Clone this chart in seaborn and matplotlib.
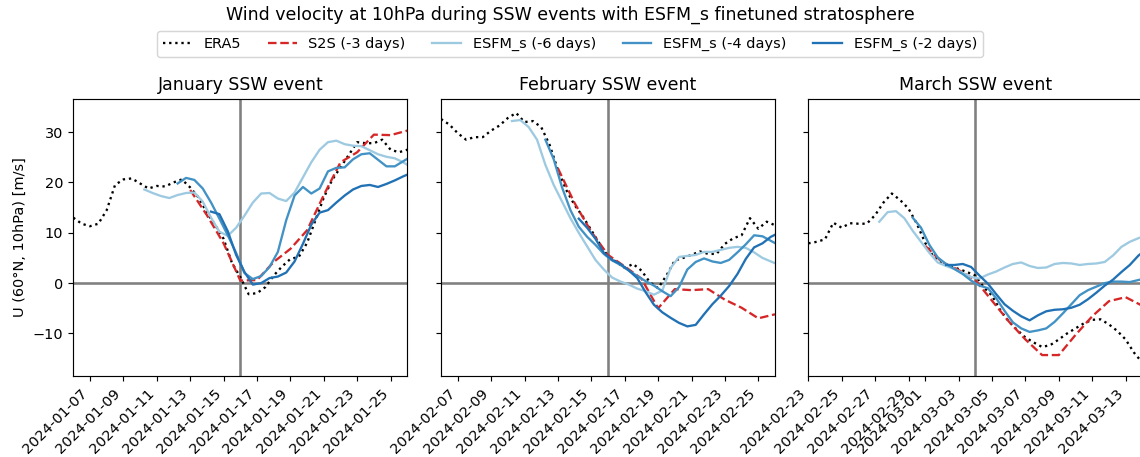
import pandas as pd
import matplotlib
matplotlib.use("Agg")
import matplotlib.pyplot as plt
import matplotlib.dates as mdates
import seaborn as sns

# Event windows: 10 days either side of the SSW onset
titles = ["January SSW event", "February SSW event", "March SSW event"]
window_start = ["2024-01-06", "2024-02-06", "2024-02-23"]
ssw_dates = ["2024-01-16", "2024-02-16", "2024-03-04"]

labels = ["ERA5", "S2S (-3 days)", "ESFM_s (-6 days)", "ESFM_s (-4 days)", "ESFM_s (-2 days)"]

# ERA5 zonal-mean U at 60N, 10 hPa, 12-hourly from window start
era5_jan = [13.0, 11.8, 11.3, 11.8, 14.5, 19.5, 20.6, 20.8, 19.8, 18.8,
            19.3, 19.2, 20.0, 20.6, 19.0, 17.0, 14.0, 11.5, 8.8, 4.0,
            1.2, -2.2, -2.0, -0.8, 1.5, 3.3, 4.8, 5.2, 8.0, 12.5,
            17.0, 20.5, 23.0, 25.5, 28.0, 27.8, 27.8, 28.5, 26.5, 26.0, 26.5]
era5_feb = [32.6, 31.5, 29.8, 28.5, 29.0, 29.0, 30.3, 31.3, 32.8, 33.8,
            32.0, 32.2, 31.0, 27.5, 22.5, 18.5, 15.5, 13.2, 10.5, 7.8,
            5.3, 4.2, 3.0, 3.8, 2.5, 0.2, -1.0, 1.5, 4.5, 5.0,
            5.6, 6.3, 5.8, 5.8, 7.8, 8.9, 9.5, 12.9, 10.8, 12.2, 11.5]
era5_mar = [7.9, 8.2, 8.7, 12.0, 11.0, 11.9, 11.8, 11.8, 13.5, 16.0,
            17.8, 16.5, 14.8, 11.8, 8.0, 5.2, 3.8, 3.4, 2.8, 2.2,
            1.5, -0.8, -2.5, -5.4, -7.6, -9.3, -10.8, -11.8, -12.7, -12.3,
            -11.2, -10.0, -9.0, -8.0, -7.3, -7.2, -8.2, -9.5, -11.2, -13.8, -15.8]

# S2S forecast initialised 3 days before onset, daily from day 7
s2s_jan = [18.5, 13.5, 7.9, 0.5, 0.6, 4.2, 6.8, 10.5, 17.5, 24.0, 26.0, 29.5, 29.4, 30.3]
s2s_feb = [22.8, 15.9, 10.2, 5.6, 3.3, 0.9, -5.0, -1.2, -1.4, -1.2, -3.3, -4.9, -7.0, -6.2]
s2s_mar = [7.4, 4.2, 2.6, 0.6, -3.5, -7.6, -11.2, -14.3, -14.3, -10.3, -6.6, -3.6, -2.8, -4.5]

# ESFM_s forecasts, 12-hourly starting 6 h after initialisation
esfm6_jan = [18.6, 17.9, 17.3, 16.9, 17.5, 17.9, 18.0, 16.2, 13.0, 10.2,
             9.4, 11.0, 13.4, 16.0, 17.8, 17.9, 16.8, 16.3, 18.0, 21.0,
             24.0, 26.5, 28.0, 28.3, 27.6, 27.3, 27.2, 26.4, 25.6, 25.1,
             24.8, 24.0, 23.0]
esfm4_jan = [19.8, 20.9, 20.5, 18.8, 16.0, 12.8, 9.5, 6.0, 2.0, 0.8,
             1.4, 3.2, 6.2, 12.5, 17.4, 19.1, 17.8, 18.8, 22.2, 22.9,
             23.0, 24.6, 25.6, 25.8, 24.5, 23.2, 23.2, 24.2, 25.2]
esfm2_jan = [14.2, 13.7, 10.3, 5.6, 2.2, -0.3, 0.0, 1.0, 1.3, 2.1,
             4.3, 7.8, 11.6, 14.0, 14.5, 16.0, 17.4, 18.6, 19.3, 19.5,
             19.1, 19.7, 20.4, 21.2, 21.9]

esfm6_feb = [32.2, 32.4, 31.0, 28.5, 23.5, 19.5, 16.2, 12.9, 10.0, 7.3,
             4.6, 2.7, 1.1, 0.3, -0.3, -1.1, -1.6, -2.3, -1.5, 3.0,
             5.2, 5.4, 5.6, 6.2, 6.2, 6.6, 7.0, 7.2, 7.0, 6.1,
             5.0, 4.3, 3.6]
esfm4_feb = [28.5, 24.6, 19.0, 14.5, 11.2, 9.2, 7.6, 5.8, 4.5, 3.6,
             2.5, 1.4, 0.4, -0.5, -1.6, -2.6, -0.8, 2.7, 4.2, 4.9,
             4.3, 4.0, 4.6, 6.1, 7.7, 9.5, 9.3, 8.4, 7.5]
esfm2_feb = [12.8, 11.0, 8.8, 6.0, 4.6, 3.8, 2.5, 1.0, -1.8, -4.3,
             -5.8, -6.9, -7.9, -8.6, -8.3, -6.2, -4.2, -2.5, -0.6, 1.8,
             4.8, 7.1, 7.9, 9.2, 10.0]

esfm6_mar = [12.2, 14.1, 14.3, 12.9, 10.4, 8.2, 6.0, 4.1, 3.4, 2.8,
             2.0, 1.2, 0.9, 1.7, 2.3, 3.1, 3.8, 4.1, 3.4, 3.0,
             3.1, 3.8, 4.0, 3.9, 3.6, 3.8, 3.9, 4.2, 5.5, 7.2,
             8.2, 8.9, 9.5]
esfm4_mar = [13.0, 11.0, 7.6, 5.1, 3.8, 2.8, 1.8, 0.5, -0.5, -1.0,
             -3.0, -5.5, -7.8, -9.0, -9.7, -9.4, -9.0, -7.7, -6.0, -4.2,
             -2.4, -1.4, -0.7, 0.0, 0.3, 0.3, 0.2, 0.6, 1.0]
esfm2_mar = [3.6, 3.6, 3.8, 3.2, 1.5, -0.1, -2.2, -4.2, -5.5, -6.6,
             -7.4, -6.4, -5.6, -5.3, -5.2, -4.9, -4.3, -3.2, -1.9, -0.5,
             0.7, 2.2, 3.6, 5.4, 6.8]

era5 = [era5_jan, era5_feb, era5_mar]
s2s = [s2s_jan, s2s_feb, s2s_mar]
esfm6 = [esfm6_jan, esfm6_feb, esfm6_mar]
esfm4 = [esfm4_jan, esfm4_feb, esfm4_mar]
esfm2 = [esfm2_jan, esfm2_feb, esfm2_mar]

colors = {"era5": "black", "s2s": "#d62728",
          "esfm6": "#9ecae1", "esfm4": "#4292c6", "esfm2": "#2171b5"}


def times(start, offset_hours, step_hours, n):
    t0 = pd.Timestamp(start) + pd.Timedelta(hours=offset_hours)
    return pd.date_range(t0, periods=n, freq=f"{step_hours}h")


DPI = 104
fig = plt.figure(figsize=(1140 / DPI, 457 / DPI), dpi=DPI)

W, H = 1140, 457
ax_w = 334 / W
ax_b = (H - 376) / H
ax_h = (376 - 99) / H
lefts = [73.3 / W, 441 / W, 808.3 / W]

axes = []
for i, left in enumerate(lefts):
    ax = fig.add_axes([left, ax_b, ax_w, ax_h], sharey=axes[0] if axes else None)
    axes.append(ax)
    start = window_start[i]

    ax.axhline(0, color="gray", lw=1.8, zorder=1)
    ax.axvline(pd.Timestamp(ssw_dates[i]), color="gray", lw=1.8, zorder=1)

    sns.lineplot(x=times(start, 0, 12, len(era5[i])), y=era5[i], ax=ax,
                 color=colors["era5"], linestyle=":", lw=1.6, label=labels[0])
    sns.lineplot(x=times(start, 7 * 24, 24, len(s2s[i])), y=s2s[i], ax=ax,
                 color=colors["s2s"], linestyle="--", lw=1.6, label=labels[1])
    sns.lineplot(x=times(start, 4 * 24 + 6, 12, len(esfm6[i])), y=esfm6[i], ax=ax,
                 color=colors["esfm6"], lw=1.6, label=labels[2])
    sns.lineplot(x=times(start, 6 * 24 + 6, 12, len(esfm4[i])), y=esfm4[i], ax=ax,
                 color=colors["esfm4"], lw=1.6, label=labels[3])
    sns.lineplot(x=times(start, 8 * 24 + 6, 12, len(esfm2[i])), y=esfm2[i], ax=ax,
                 color=colors["esfm2"], lw=1.6, label=labels[4])

    ax.set_xlim(pd.Timestamp(start), pd.Timestamp(start) + pd.Timedelta(days=20))
    ax.xaxis.set_major_locator(mdates.DayLocator(bymonthday=range(1, 32, 2)))
    ax.xaxis.set_major_formatter(mdates.DateFormatter("%Y-%m-%d"))
    plt.setp(ax.get_xticklabels(), rotation=45, ha="right")
    ax.set_title(titles[i], fontsize=12)
    ax.set_xlabel("")
    if i == 0:
        ax.set_ylabel("U (60°N, 10hPa) [m/s]")
    else:
        ax.set_ylabel("")
        ax.tick_params(labelleft=False)

handles, leg_labels = axes[0].get_legend_handles_labels()
for ax in axes:
    if ax.get_legend() is not None:
        ax.get_legend().remove()

axes[0].set_ylim(-18.46, 36.58)

fig.legend(handles, leg_labels, loc="center", bbox_to_anchor=(0.5, 1 - 43.7 / H),
           ncol=5, frameon=True, fontsize=10, columnspacing=1.85)
fig.suptitle("Wind velocity at 10hPa during SSW events with ESFM_s finetuned stratosphere",
             fontsize=12, y=1 - 20 / H, va="baseline")

fig.savefig("out.png", dpi=DPI)
